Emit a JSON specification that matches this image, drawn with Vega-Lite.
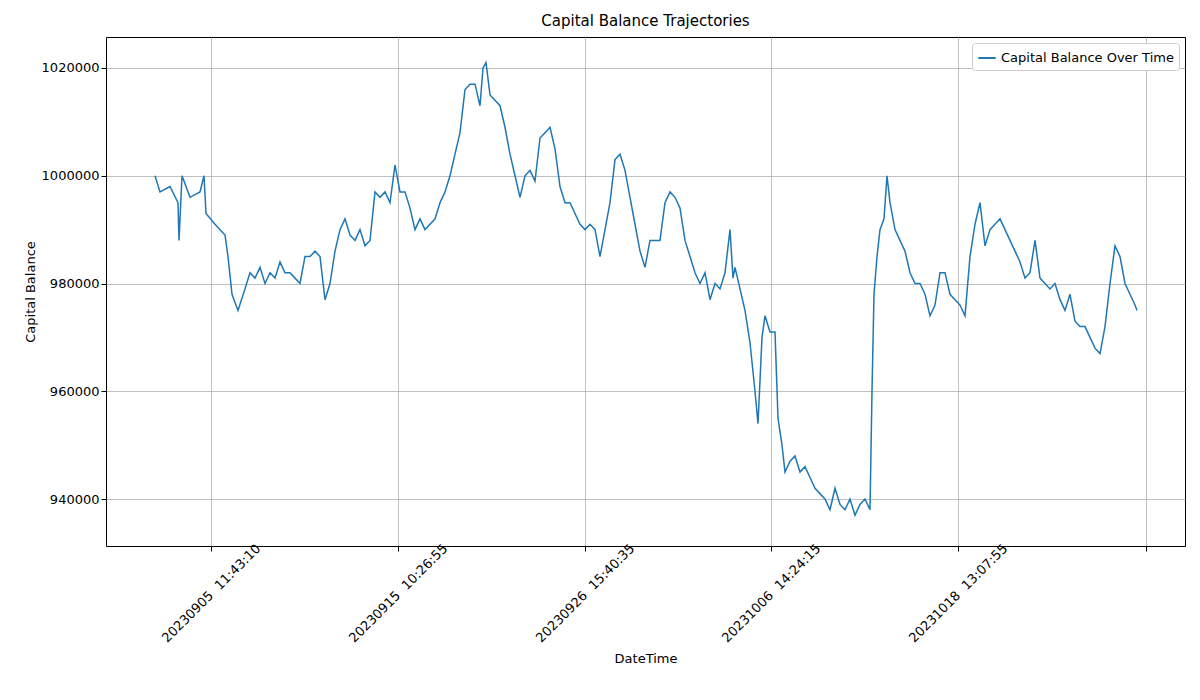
{
  "$schema": "https://vega.github.io/schema/vega-lite/v6.json",
  "width": 1079,
  "height": 509,
  "autosize": {"type": "none"},
  "padding": {"left": 106, "top": 37, "right": 15, "bottom": 154},
  "background": "white",
  "title": {"text": "Capital Balance Trajectories", "fontSize": 15, "fontWeight": "normal", "font": "DejaVu Sans", "offset": 8},
  "config": {
    "font": "DejaVu Sans",
    "view": {"stroke": "black", "strokeWidth": 1}
  },
  "data": {"values": [
    {"t":155,"v":1000000},{"t":160,"v":997000},{"t":170,"v":998000},{"t":178,"v":995000},{"t":179,"v":988000},
    {"t":182,"v":1000000},{"t":190,"v":996000},{"t":200,"v":997000},{"t":204,"v":1000000},{"t":206,"v":993000},
    {"t":215,"v":991000},{"t":225,"v":989000},{"t":228,"v":985000},{"t":232,"v":978000},{"t":238,"v":975000},
    {"t":245,"v":979000},{"t":250,"v":982000},{"t":255,"v":981000},{"t":260,"v":983000},{"t":265,"v":980000},
    {"t":270,"v":982000},{"t":275,"v":981000},{"t":280,"v":984000},{"t":285,"v":982000},{"t":290,"v":982000},
    {"t":295,"v":981000},{"t":300,"v":980000},{"t":305,"v":985000},{"t":310,"v":985000},{"t":315,"v":986000},
    {"t":320,"v":985000},{"t":325,"v":977000},{"t":330,"v":980000},{"t":335,"v":986000},{"t":340,"v":990000},
    {"t":345,"v":992000},{"t":350,"v":989000},{"t":355,"v":988000},{"t":360,"v":990000},{"t":365,"v":987000},
    {"t":370,"v":988000},{"t":375,"v":997000},{"t":380,"v":996000},{"t":385,"v":997000},{"t":390,"v":995000},
    {"t":395,"v":1002000},{"t":400,"v":997000},{"t":405,"v":997000},{"t":410,"v":994000},{"t":415,"v":990000},
    {"t":420,"v":992000},{"t":425,"v":990000},{"t":430,"v":991000},{"t":435,"v":992000},{"t":440,"v":995000},
    {"t":445,"v":997000},{"t":450,"v":1000000},{"t":455,"v":1004000},{"t":460,"v":1008000},{"t":465,"v":1016000},
    {"t":470,"v":1017000},{"t":475,"v":1017000},{"t":480,"v":1013000},{"t":483,"v":1020000},{"t":486,"v":1021000},
    {"t":490,"v":1015000},{"t":495,"v":1014000},{"t":500,"v":1013000},{"t":505,"v":1009000},{"t":510,"v":1004000},
    {"t":515,"v":1000000},{"t":520,"v":996000},{"t":525,"v":1000000},{"t":530,"v":1001000},{"t":535,"v":999000},
    {"t":540,"v":1007000},{"t":545,"v":1008000},{"t":550,"v":1009000},{"t":555,"v":1005000},{"t":560,"v":998000},
    {"t":565,"v":995000},{"t":570,"v":995000},{"t":575,"v":993000},{"t":580,"v":991000},{"t":585,"v":990000},
    {"t":590,"v":991000},{"t":595,"v":990000},{"t":600,"v":985000},{"t":605,"v":990000},{"t":610,"v":995000},
    {"t":615,"v":1003000},{"t":620,"v":1004000},{"t":625,"v":1001000},{"t":630,"v":996000},{"t":635,"v":991000},
    {"t":640,"v":986000},{"t":645,"v":983000},{"t":650,"v":988000},{"t":655,"v":988000},{"t":660,"v":988000},
    {"t":665,"v":995000},{"t":670,"v":997000},{"t":675,"v":996000},{"t":680,"v":994000},{"t":685,"v":988000},
    {"t":690,"v":985000},{"t":695,"v":982000},{"t":700,"v":980000},{"t":705,"v":982000},{"t":710,"v":977000},
    {"t":715,"v":980000},{"t":720,"v":979000},{"t":725,"v":982000},{"t":730,"v":990000},{"t":733,"v":981000},
    {"t":735,"v":983000},{"t":740,"v":979000},{"t":745,"v":975000},{"t":750,"v":969000},{"t":755,"v":960000},
    {"t":758,"v":954000},{"t":762,"v":970000},{"t":765,"v":974000},{"t":770,"v":971000},{"t":775,"v":971000},
    {"t":778,"v":955000},{"t":782,"v":950000},{"t":785,"v":945000},{"t":790,"v":947000},{"t":795,"v":948000},
    {"t":800,"v":945000},{"t":805,"v":946000},{"t":810,"v":944000},{"t":815,"v":942000},{"t":820,"v":941000},
    {"t":825,"v":940000},{"t":830,"v":938000},{"t":835,"v":942000},{"t":840,"v":939000},{"t":845,"v":938000},
    {"t":850,"v":940000},{"t":855,"v":937000},{"t":860,"v":939000},{"t":865,"v":940000},{"t":870,"v":938000},
    {"t":872,"v":960000},{"t":874,"v":978000},{"t":877,"v":985000},{"t":880,"v":990000},{"t":884,"v":992000},
    {"t":887,"v":1000000},{"t":890,"v":995000},{"t":895,"v":990000},{"t":900,"v":988000},{"t":905,"v":986000},
    {"t":910,"v":982000},{"t":915,"v":980000},{"t":920,"v":980000},{"t":925,"v":978000},{"t":930,"v":974000},
    {"t":935,"v":976000},{"t":940,"v":982000},{"t":945,"v":982000},{"t":950,"v":978000},{"t":955,"v":977000},
    {"t":960,"v":976000},{"t":965,"v":974000},{"t":970,"v":985000},{"t":975,"v":991000},{"t":980,"v":995000},
    {"t":985,"v":987000},{"t":990,"v":990000},{"t":995,"v":991000},{"t":1000,"v":992000},{"t":1005,"v":990000},
    {"t":1010,"v":988000},{"t":1015,"v":986000},{"t":1020,"v":984000},{"t":1025,"v":981000},{"t":1030,"v":982000},
    {"t":1035,"v":988000},{"t":1040,"v":981000},{"t":1045,"v":980000},{"t":1050,"v":979000},{"t":1055,"v":980000},
    {"t":1060,"v":977000},{"t":1065,"v":975000},{"t":1070,"v":978000},{"t":1075,"v":973000},{"t":1080,"v":972000},
    {"t":1085,"v":972000},{"t":1090,"v":970000},{"t":1095,"v":968000},{"t":1100,"v":967000},{"t":1105,"v":972000},
    {"t":1110,"v":980000},{"t":1115,"v":987000},{"t":1120,"v":985000},{"t":1125,"v":980000},{"t":1130,"v":978000},
    {"t":1135,"v":976000},{"t":1137,"v":975000}
  ]},
  "mark": {"type": "line", "strokeWidth": 1.5},
  "encoding": {
    "x": {
      "field": "t", "type": "quantitative",
      "scale": {"domain": [106, 1185], "nice": false, "zero": false},
      "axis": {
        "title": "DateTime", "titleFontSize": 13, "titleFontWeight": "normal", "titleColor": "black", "titlePadding": 8,
        "values": [211, 398, 585, 771, 958, 1146],
        "labelExpr": "datum.value == 211 ? '20230905\u00a0 11:43:10' : datum.value == 398 ? '20230915\u00a0 10:26:55' : datum.value == 585 ? '20230926\u00a0 15:40:35' : datum.value == 771 ? '20231006\u00a0 14:24:15' : datum.value == 958 ? '20231018\u00a0 13:07:55' : ''",
        "labelAngle": -45, "labelAlign": "center", "labelBaseline": "middle", "labelPadding": 42, "labelFontSize": 13, "labelColor": "black",
        "labelOverlap": false, "labelBound": false,
        "grid": true, "gridColor": "#b0b0b0", "gridWidth": 0.8,
        "tickColor": "black", "tickSize": 5, "domain": false
      }
    },
    "y": {
      "field": "v", "type": "quantitative",
      "scale": {"domain": [931277, 1025754], "nice": false, "zero": false},
      "axis": {
        "title": "Capital Balance", "titleFontSize": 13, "titleFontWeight": "normal", "titleColor": "black",
        "values": [940000, 960000, 980000, 1000000, 1020000], "format": "d",
        "labelFontSize": 13, "labelColor": "black",
        "grid": true, "gridColor": "#b0b0b0", "gridWidth": 0.8,
        "tickColor": "black", "tickSize": 5, "domain": false
      }
    },
    "color": {
      "datum": "Capital Balance Over Time", "type": "nominal",
      "scale": {"range": ["#1f77b4"]},
      "legend": {
        "title": null, "orient": "top-right", "symbolType": "stroke", "symbolStrokeWidth": 2,
        "symbolSize": 300, "labelFontSize": 13, "labelColor": "black", "labelLimit": 0,
        "strokeColor": "#cccccc", "fillColor": "white", "padding": 5, "cornerRadius": 3, "offset": 6
      }
    }
  }
}
